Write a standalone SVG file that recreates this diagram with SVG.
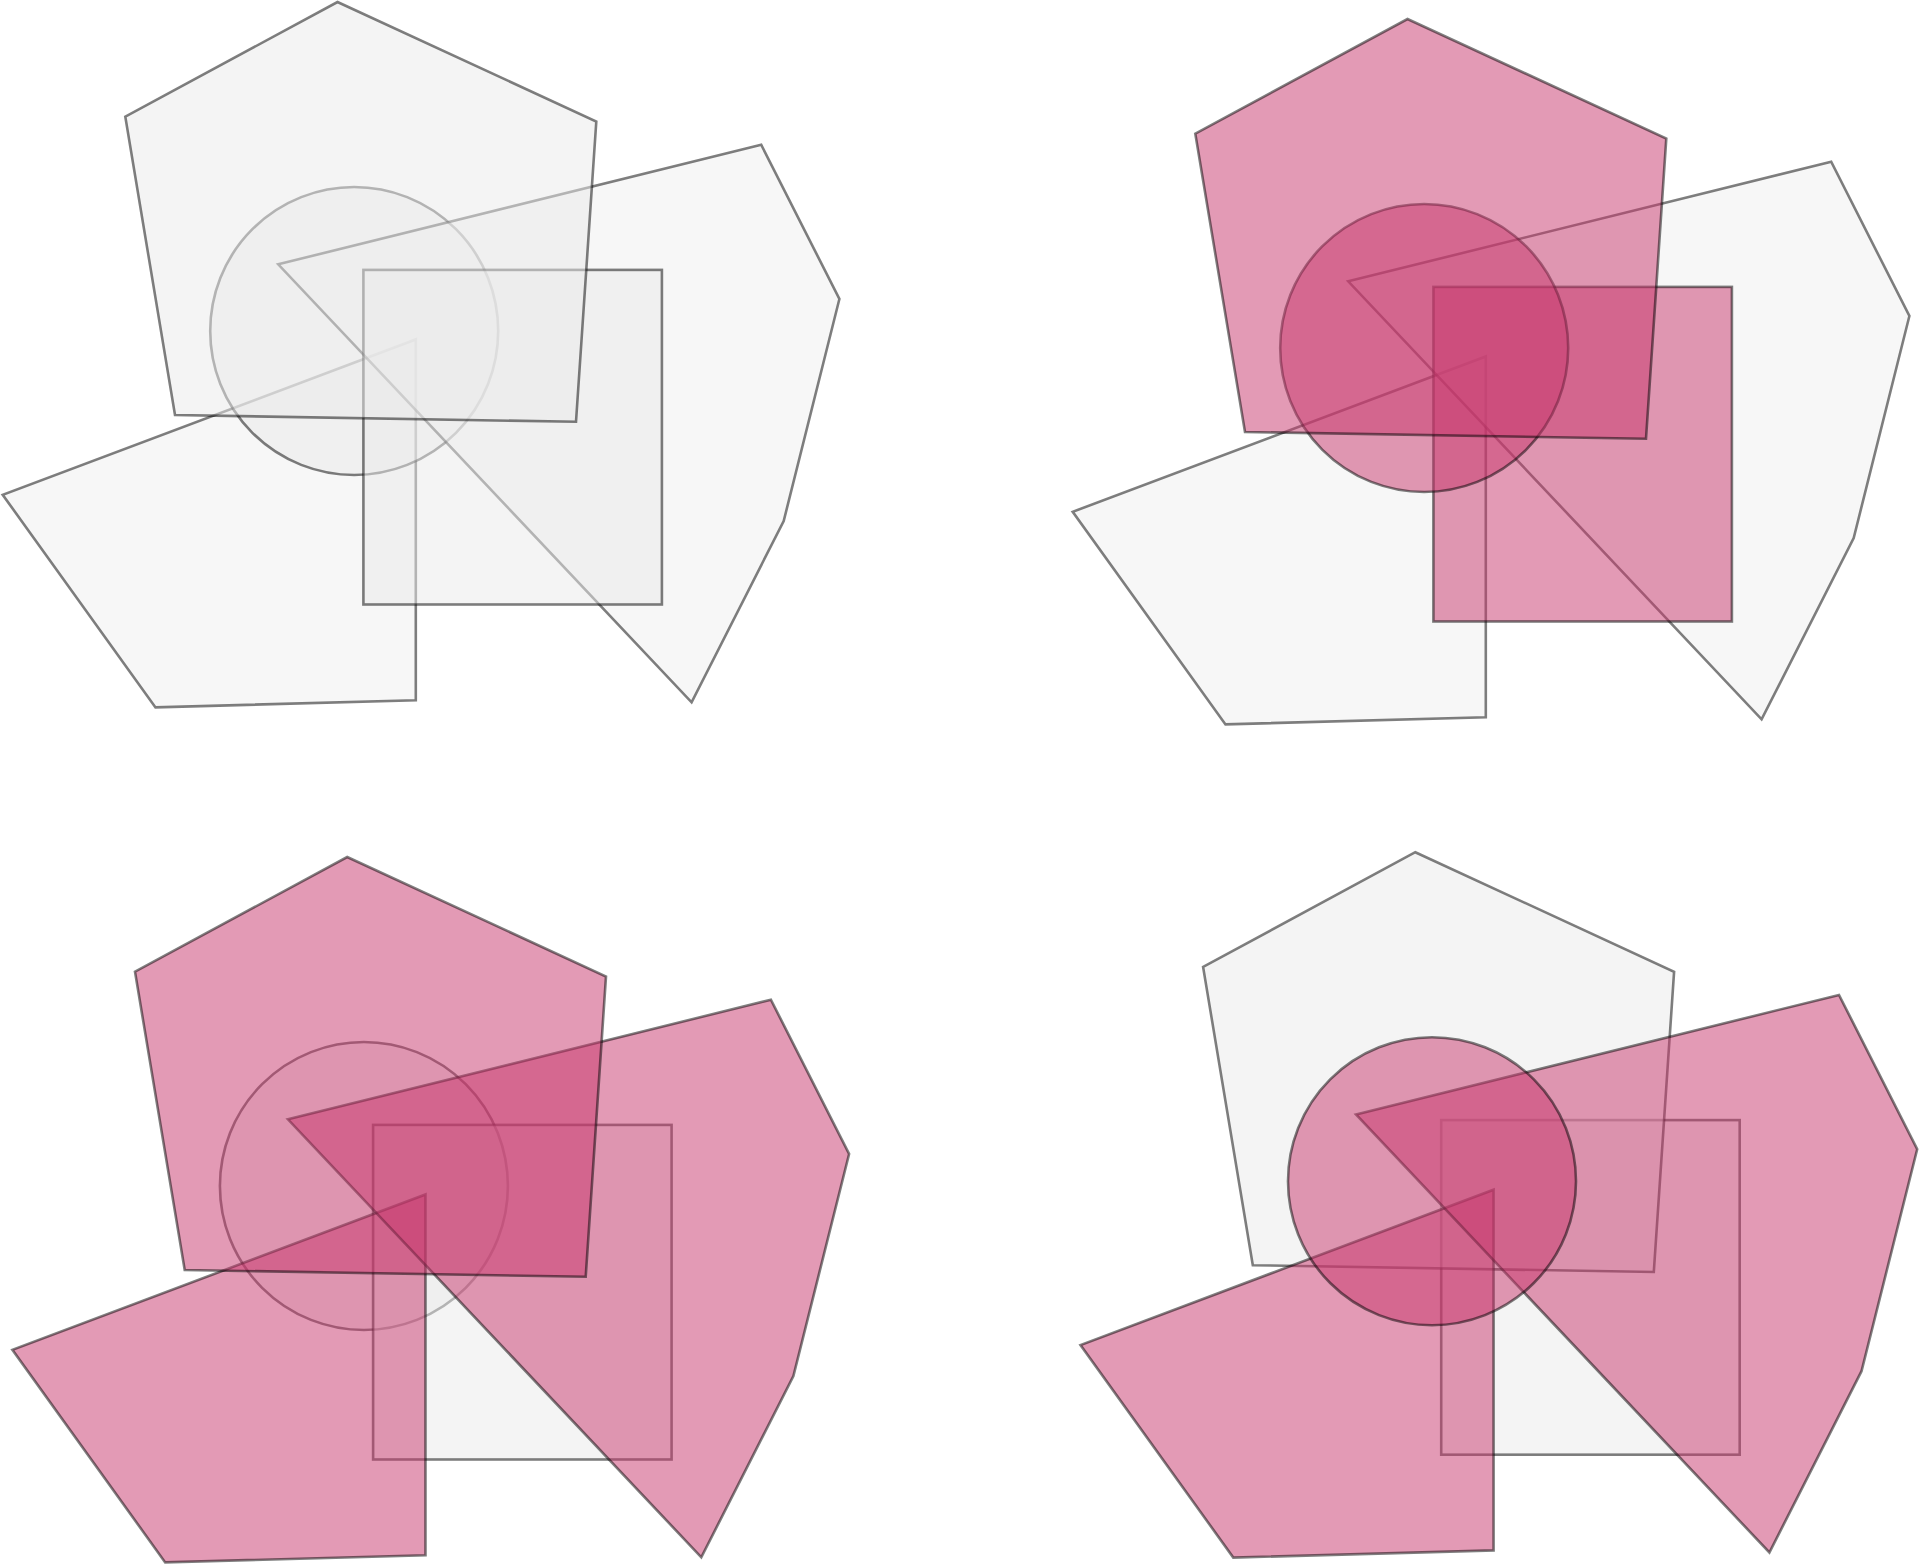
<svg xmlns="http://www.w3.org/2000/svg" xmlns:xlink="http://www.w3.org/1999/xlink" width="1919" height="1565" viewBox="0 0 1919 1565">
<style>
.sh { stroke:#000; stroke-opacity:0.5; stroke-width:2.6; stroke-linejoin:miter; }
.ga { fill:#e9e9e9; fill-opacity:0.5; }
.gb { fill:#efefef; fill-opacity:0.5; }
.pk { fill:#c7356b; fill-opacity:0.5; }
</style>
<defs>
<polygon id="pent" points="337.5,2 596.3,121.5 576,421.8 175,415 125.3,116.7"/>
<polygon id="rpoly" points="278.2,264.3 761.2,144.7 839.4,299 783.7,521 691.6,702.3"/>
<circle id="circ" cx="354.2" cy="331" r="144"/>
<rect id="rct" x="363.4" y="269.9" width="298.5" height="334.6"/>
<polygon id="bpoly" points="415.8,339.5 415.8,700.2 155.5,707.4 2.7,494.8"/>
</defs>
<rect width="1919" height="1565" fill="#fff"/>
<g id="panel-top-left">
  <g id="tl-bottom-polygon"><use xlink:href="#bpoly" class="sh gb"/></g>
  <g id="tl-circle"><use xlink:href="#circ" class="sh ga"/></g>
  <g id="tl-right-polygon"><use xlink:href="#rpoly" class="sh gb"/></g>
  <g id="tl-rectangle"><use xlink:href="#rct" class="sh ga"/></g>
  <g id="tl-pentagon"><use xlink:href="#pent" class="sh ga"/></g>
</g>
<g id="panel-top-right" transform="translate(1070,17)">
  <g id="tr-bottom-polygon"><use xlink:href="#bpoly" class="sh gb"/></g>
  <g id="tr-right-polygon"><use xlink:href="#rpoly" class="sh gb"/></g>
  <g id="tr-rectangle"><use xlink:href="#rct" class="sh pk"/></g>
  <g id="tr-circle"><use xlink:href="#circ" class="sh pk"/></g>
  <g id="tr-pentagon"><use xlink:href="#pent" class="sh pk"/></g>
</g>
<g id="panel-bottom-left" transform="translate(9.7,855)">
  <g id="bl-circle"><use xlink:href="#circ" class="sh ga"/></g>
  <g id="bl-rectangle"><use xlink:href="#rct" class="sh ga"/></g>
  <g id="bl-bottom-polygon"><use xlink:href="#bpoly" class="sh pk"/></g>
  <g id="bl-right-polygon"><use xlink:href="#rpoly" class="sh pk"/></g>
  <g id="bl-pentagon"><use xlink:href="#pent" class="sh pk"/></g>
</g>
<g id="panel-bottom-right" transform="translate(1077.8,850.2)">
  <g id="br-rectangle"><use xlink:href="#rct" class="sh ga"/></g>
  <g id="br-pentagon"><use xlink:href="#pent" class="sh ga"/></g>
  <g id="br-bottom-polygon"><use xlink:href="#bpoly" class="sh pk"/></g>
  <g id="br-right-polygon"><use xlink:href="#rpoly" class="sh pk"/></g>
  <g id="br-circle"><use xlink:href="#circ" class="sh pk"/></g>
</g>
</svg>
